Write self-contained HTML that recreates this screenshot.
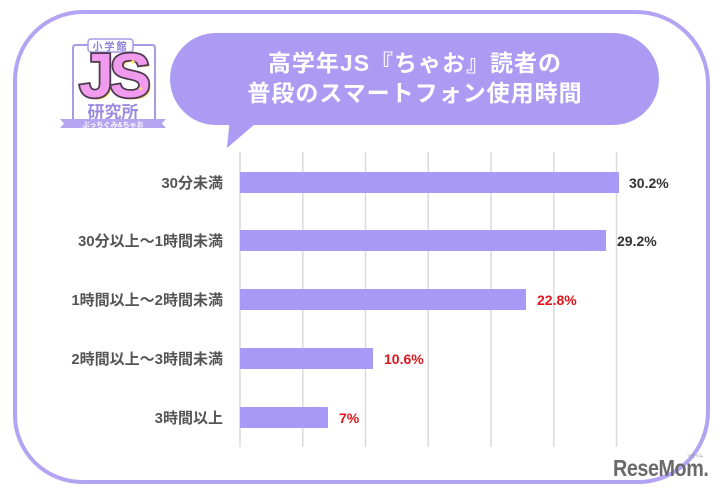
<!DOCTYPE html>
<html><head><meta charset="utf-8">
<style>
html,body{margin:0;padding:0;background:#fff;}
body{width:724px;height:490px;overflow:hidden;}
svg{display:block;}
.jp{font-family:"Liberation Sans","Noto Sans CJK JP",sans-serif;font-weight:bold;}
</style></head>
<body>
<svg width="724" height="490" viewBox="0 0 724 490" xmlns="http://www.w3.org/2000/svg">
  <!-- outer frame -->
  <path d="M82 12 H636 A72 72 0 0 1 708 84 V412 A70 70 0 0 1 638 482 H82 A67 67 0 0 1 15 415 V80 A68 68 0 0 1 82 12 Z" fill="#fff" stroke="#b2a3f3" stroke-width="4"/>

  <!-- speech bubble -->
  <rect x="170" y="33" width="489" height="92" rx="46" fill="#ab9bf3"/>
  <polygon points="230,118 262,118 227,148" fill="#ab9bf3"/>
  <text x="415" y="71" text-anchor="middle" class="jp" font-size="23" fill="#fff" letter-spacing="1">高学年JS『ちゃお』読者の</text>
  <text x="415" y="101" text-anchor="middle" class="jp" font-size="23" fill="#fff" letter-spacing="1">普段のスマートフォン使用時間</text>

  <!-- logo -->
  <g>
    <path d="M88 45 H76 Q73 45 73 48 V120" fill="none" stroke="#a99ae6" stroke-width="2"/>
    <path d="M133 45 H152 Q155 45 155 48 V120" fill="none" stroke="#a99ae6" stroke-width="2"/>
    <rect x="88" y="39" width="45" height="13" rx="3" fill="#fff" stroke="#a99ae6" stroke-width="1.5"/>
    <text x="110.5" y="50" text-anchor="middle" class="jp" font-size="10" fill="#8c7fd6" font-weight="normal" letter-spacing="2">小学館</text>
    <text x="115" y="99" text-anchor="middle" font-family="Liberation Sans, sans-serif" font-weight="bold" font-size="62" fill="#f4d25a" letter-spacing="-4">JS</text>
    <text x="113" y="97" text-anchor="middle" font-family="Liberation Sans, sans-serif" font-weight="bold" font-size="62" fill="#f19bee" stroke="#4b3a4d" stroke-width="3.5" paint-order="stroke" letter-spacing="-4">JS</text>
    <text x="129" y="65" font-size="9" fill="#fde36a">✦</text>
    <text x="138" y="91" font-size="7" fill="#fde36a">✦</text>
    <text x="113" y="118" text-anchor="middle" class="jp" font-size="17" fill="#9a8be0" letter-spacing="0">研究所</text>
    <path d="M60 119 H166 L162 123.5 L166 128 H60 L64 123.5 Z" fill="#b3a5ef"/>
    <text x="113" y="127" text-anchor="middle" class="jp" font-size="7" fill="#fff">ぷっちぐみ&amp;ちゃお</text>
  </g>

  <!-- gridlines -->
  <g stroke="#dadada" stroke-width="1.5">
    <line x1="240" y1="152" x2="240" y2="447"/>
    <line x1="302.8" y1="152" x2="302.8" y2="447"/>
    <line x1="365.5" y1="152" x2="365.5" y2="447"/>
    <line x1="428.3" y1="152" x2="428.3" y2="447"/>
    <line x1="491" y1="152" x2="491" y2="447"/>
    <line x1="553.8" y1="152" x2="553.8" y2="447"/>
    <line x1="616.5" y1="152" x2="616.5" y2="447"/>
  </g>

  <!-- bars -->
  <g fill="#a999f7">
    <rect x="240" y="172" width="379" height="21"/>
    <rect x="240" y="230" width="366" height="21"/>
    <rect x="240" y="289" width="286" height="21"/>
    <rect x="240" y="348" width="133" height="21"/>
    <rect x="240" y="407" width="88" height="21"/>
  </g>

  <!-- category labels -->
  <g class="jp" font-size="15" fill="#555" text-anchor="end">
    <text x="223" y="188">30分未満</text>
    <text x="223" y="246">30分以上～1時間未満</text>
    <text x="223" y="305">1時間以上～2時間未満</text>
    <text x="223" y="364">2時間以上～3時間未満</text>
    <text x="223" y="423">3時間以上</text>
  </g>

  <!-- value labels -->
  <g font-family="Liberation Sans, sans-serif" font-weight="bold" font-size="14">
    <text x="629" y="188" fill="#333">30.2%</text>
    <text x="617" y="246" fill="#333">29.2%</text>
    <text x="537" y="305" fill="#e0141c">22.8%</text>
    <text x="384" y="364" fill="#e0141c">10.6%</text>
    <text x="339" y="423" fill="#e0141c">7%</text>
  </g>

  <!-- ReseMom logo -->
  <text x="613" y="476" font-family="Liberation Sans, sans-serif" font-weight="bold" font-size="23" fill="#6a6a6a" transform="translate(613 0) scale(0.86 1) translate(-613 0)" letter-spacing="-0.5">ReseMom.</text>
  <text x="695" y="457" font-family="Noto Sans CJK JP, sans-serif" font-size="4" fill="#888" text-anchor="middle">リセマム</text>
</svg>
</body></html>
